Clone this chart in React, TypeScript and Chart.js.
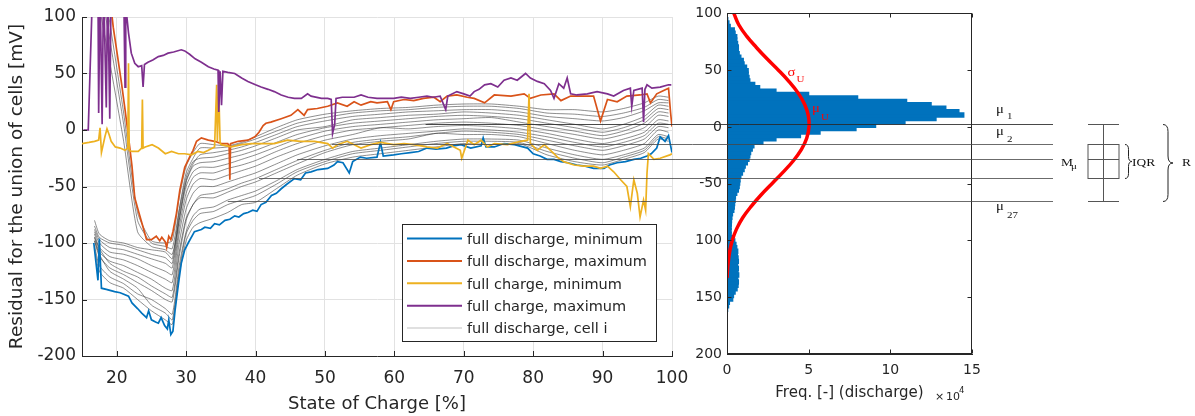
import React, { useEffect, useRef } from 'react';
import { Chart, registerables } from 'chart.js';

Chart.register(...registerables);

// ---------------- data ----------------
const socTicks = [20, 30, 40, 50, 60, 70, 80, 90, 100];
const residualTicks = [-200, -150, -100, -50, 0, 50, 100];
const residualTickLabels = ['-200', '-150', '-100', '-50', '0', '50', '100'];
const histYTickLabels = ['200', '150', '100', '-50', '0', '50', '100'];
const freqTicks = [0, 5, 10, 15];

const legendLabels = [
  'full discharge, minimum',
  'full discharge, maximum',
  'full charge, minimum',
  'full charge, maximum',
  'full discharge, cell i',
];

// full discharge, minimum  [SOC %, mV]
const dischargeMin: [number, number][] = [
  [16.7, -100], [17.3, -133], [17.5, -96], [17.8, -140], [18.5, -141], [19.7, -143], [20.5, -144],
  [21.7, -147], [22.2, -153], [23.0, -158], [23.6, -162], [24.3, -166], [24.6, -160], [25.0, -168],
  [25.6, -170], [26.0, -171], [26.4, -166], [26.9, -173], [27.3, -176], [27.5, -168], [27.8, -181],
  [28.1, -178], [28.4, -160], [28.9, -136], [29.3, -118], [29.8, -106], [30.3, -100], [31.2, -90],
  [32.2, -88], [32.7, -86], [33.5, -87], [34.1, -83], [34.8, -84], [35.6, -80], [36.3, -79],
  [37.0, -76], [37.6, -77], [38.3, -74], [38.9, -73], [39.6, -71], [40.2, -72], [40.8, -66],
  [41.5, -64], [42.3, -58], [43.0, -56], [43.7, -52], [44.5, -48], [45.6, -43], [46.5, -44],
  [47.2, -38], [48.0, -37], [49.0, -35], [50.4, -34], [51.3, -31], [51.8, -28], [52.6, -29],
  [53.5, -38], [54.0, -28], [55.1, -24], [56.0, -25], [57.5, -24], [58.0, -11], [58.4, -23],
  [59.9, -22], [61.0, -21], [62.3, -20], [63.5, -19], [64.7, -16], [66.0, -17], [67.5, -16],
  [68.5, -14], [69.6, -13], [71.0, -16], [72.5, -14], [72.8, -7], [73.2, -15], [74.4, -15],
  [75.8, -12], [77.3, -13], [79.2, -16], [80.0, -21], [81.0, -23], [82.0, -26], [83.0, -26],
  [84.0, -28], [85.0, -29], [86.3, -31], [87.5, -32], [88.7, -34], [90.2, -34], [91.0, -31],
  [92.1, -29], [93.3, -28], [94.5, -26], [95.5, -25], [96.4, -23], [97.0, -21], [97.8, -16],
  [98.3, -6], [99.0, -10], [99.5, -5], [100, -20],
];

// full discharge, maximum
const dischargeMax: [number, number][] = [
  [17.0, 180], [18.5, 140], [19.3, 102], [19.5, 91], [20.2, 62], [20.7, 41], [21.2, 18],
  [21.7, -6], [22.2, -32], [22.6, -60], [23.1, -71], [23.8, -86], [24.3, -97], [25.0, -97],
  [25.7, -94], [26.2, -98], [26.5, -95], [27.0, -99], [27.2, -104], [27.5, -94], [27.8, -97],
  [28.1, -90], [28.6, -74], [29.1, -53], [29.8, -33], [30.5, -24], [31.0, -18], [31.5, -10],
  [32.2, -7], [33.2, -9], [34.1, -10], [35.1, -12], [36.0, -12], [36.2, -14], [36.3, -44],
  [36.4, -12], [37.5, -10], [38.9, -9], [39.9, -6], [40.5, -2], [41.1, 4], [41.5, 6], [42.2, 7],
  [43.7, 10], [45.1, 13], [46.1, 18], [47.0, 13], [47.5, 18], [48.9, 19], [50.4, 21], [51.8, 24],
  [53.2, 21], [54.2, 25], [55.2, 22], [56.6, 25], [57.5, 24], [59.0, 25], [59.5, 18], [59.9, 25],
  [61.4, 27], [62.8, 26], [64.2, 28], [65.7, 29], [66.6, 25], [67.6, 30], [69.0, 31], [70.5, 29],
  [71.5, 28], [73.0, 24], [74.4, 31], [76.8, 30], [78.7, 32], [79.6, 28], [81.1, 31], [83.0, 32],
  [84.0, 26], [85.4, 30], [87.3, 30], [88.7, 30], [89.7, 8], [90.7, 27], [92.1, 25], [93.5, 30],
  [95.4, 31], [96.4, 32], [96.9, 24], [97.8, 32], [98.8, 35], [99.5, 37], [99.8, 15], [100, 3],
];

// full charge, minimum
const chargeMin: [number, number][] = [
  [15.0, -12], [16.0, -11], [16.8, -10], [17.4, -9], [17.6, 2], [17.8, -20], [18.3, -6],
  [18.6, 1], [18.9, -4], [19.2, -10], [19.8, -15], [20.5, -16], [21.2, -18], [21.6, -16],
  [21.7, 59], [21.8, -18], [22.2, -19], [23.1, -19], [23.6, -16], [23.7, 27], [23.8, -16],
  [24.1, -15], [25.1, -13], [26.0, -16], [27.0, -21], [27.9, -19], [28.9, -21], [29.8, -21],
  [30.8, -22], [31.7, -19], [32.5, -20], [33.2, -18], [34.1, -15], [34.4, 40], [34.5, -10],
  [34.7, 36], [34.9, -12], [35.1, -13], [36.5, -15], [38.0, -13], [39.4, -12], [40.8, -12],
  [42.7, -12], [44.6, -9], [46.5, -10], [48.5, -10], [50.4, -12], [51.1, -16], [51.8, -13],
  [53.2, -10], [55.2, -16], [56.6, -13], [58.0, -11], [59.9, -13], [61.4, -12], [62.8, -13],
  [64.7, -15], [66.2, -16], [67.6, -12], [69.5, -18], [69.7, -25], [70.6, -9], [71.5, -13],
  [72.5, -9], [73.4, -15], [74.4, -12], [76.3, -13], [78.2, -10], [79.2, -9], [79.4, 32],
  [79.6, -12], [80.6, -18], [81.6, -13], [82.5, -18], [83.5, -24], [84.4, -28], [85.9, -31],
  [87.3, -32], [88.7, -32], [89.7, -34], [90.7, -32], [91.6, -37], [92.6, -44], [93.5, -50],
  [94.0, -68], [94.5, -44], [95.0, -56], [95.4, -77], [95.9, -62], [96.2, -71], [96.4, -38],
  [96.6, -21], [97.4, -26], [98.3, -25], [99.7, -22], [100, -21],
];

// full charge, maximum
const chargeMax: [number, number][] = [
  [15.2, 0], [15.9, 0], [16.4, 100], [16.7, 130], [17.3, 130], [17.4, 15], [17.6, 130],
  [17.9, 5], [18.1, 130], [18.5, 20], [18.7, 130], [19.0, 10], [19.2, 130], [21.0, 130],
  [21.2, 38], [21.3, 110], [21.7, 86], [22.1, 68], [22.6, 59], [23.1, 56], [23.6, 57],
  [23.8, 38], [24.0, 58], [24.5, 60], [25.2, 62], [26.0, 65], [26.7, 66], [27.4, 68],
  [28.2, 69], [29.3, 71], [29.8, 70], [30.5, 67], [31.3, 63], [32.2, 60], [33.2, 56],
  [34.0, 54], [34.6, 53], [34.7, 16], [34.9, 52], [35.1, 22], [35.3, 52], [36.0, 51],
  [37.0, 50], [38.0, 46], [38.9, 43], [40.0, 40], [40.8, 38], [41.8, 36], [42.7, 34],
  [43.7, 31], [44.7, 29], [45.6, 28], [46.6, 28], [47.5, 32], [48.0, 30], [49.5, 28],
  [50.4, 28], [50.9, 27], [51.1, -3], [51.4, 5], [51.6, 28], [52.5, 29], [53.8, 29],
  [54.2, 29], [55.2, 31], [56.2, 29], [57.5, 28], [58.5, 28], [59.9, 28], [61.0, 29],
  [62.3, 28], [63.5, 29], [64.7, 30], [65.6, 29], [66.6, 30], [67.4, 18], [67.7, 30],
  [69.0, 34], [70.0, 32], [70.9, 30], [71.5, 34], [72.2, 36], [73.0, 40], [73.9, 41],
  [74.9, 38], [75.8, 44], [76.8, 46], [77.7, 44], [78.9, 50], [79.6, 46], [80.6, 43],
  [81.6, 41], [82.5, 35], [83.0, 28], [83.7, 41], [84.4, 37], [84.9, 46], [85.4, 32],
  [86.3, 31], [87.8, 32], [89.2, 34], [90.7, 32], [91.6, 30], [93.0, 35], [94.0, 37],
  [94.2, 21], [94.5, 35], [95.7, 37], [95.9, 7], [96.1, 36], [96.4, 40], [97.1, 37],
  [98.3, 38], [99.5, 40], [99.9, 40],
];

// full discharge, individual cells
const cellSoc = [16.8, 17.5, 19, 21, 23, 25, 27, 28, 29, 30, 31, 32, 34, 36, 38, 40, 43, 46, 50, 54, 58, 62, 66, 70, 74, 78, 82, 86, 90, 93, 96, 98, 99.5];
const cellResiduals: number[][] = [
  [-105, -125, -135, -140, -150, -160, -168, -172, -128, -98, -86, -82, -78, -73, -66, -64, -52, -40, -30, -24, -21, -18, -15, -12, -13, -12, -22, -28, -31, -26, -20, -8, -10],
  [-102, -120, -130, -136, -145, -150, -158, -163, -120, -90, -76, -70, -68, -62, -58, -54, -45, -35, -26, -19, -16, -13, -10, -8, -8, -9, -16, -22, -26, -22, -16, -4, -6],
  [-98, -110, -125, -132, -140, -155, -162, -168, -125, -92, -80, -74, -72, -66, -62, -58, -48, -37, -28, -21, -18, -15, -12, -10, -10, -11, -19, -25, -29, -24, -18, -6, -8],
  [-98, -112, -122, -128, -135, -142, -150, -152, -112, -80, -66, -60, -60, -55, -50, -46, -38, -30, -20, -13, -10, -8, -3, -4, -4, -6, -12, -18, -22, -18, -12, 0, -2],
  [-95, -105, -118, -125, -130, -138, -145, -148, -108, -78, -66, -58, -56, -52, -47, -43, -35, -27, -18, -11, -8, -6, -3, -1, -2, -4, -9, -14, -18, -14, -8, 3, 2],
  [-95, -108, -116, -120, -126, -132, -140, -142, -100, -70, -56, -50, -50, -46, -42, -38, -30, -22, -14, -8, -5, -3, -1, 1, 0, -2, -6, -11, -15, -11, -5, 6, 5],
  [-92, -104, -112, -115, -120, -126, -132, -135, -92, -62, -48, -43, -44, -40, -36, -32, -24, -17, -9, -4, 2, 1, 3, 4, 3, 1, -3, -8, -12, -8, -2, 9, 8],
  [-90, -100, -108, -110, -114, -120, -125, -128, -86, -56, -42, -38, -38, -34, -31, -27, -19, -12, -5, 0, 2, 4, 6, 7, 6, 4, 0, -4, -8, -4, 2, 13, 12],
  [-88, -97, -104, -106, -110, -114, -118, -122, -80, -50, -37, -33, -33, -30, -26, -22, -15, -8, -1, 3, 5, 7, 9, 10, 11, 7, 3, -1, -5, -1, 6, 16, 15],
  [-85, -95, -100, -102, -106, -110, -113, -118, -76, -46, -32, -29, -28, -25, -22, -18, -11, -4, 2, 6, 8, 10, 12, 13, 12, 10, 6, 2, -2, 2, 9, 19, 18],
  [-80, -92, -98, -100, -104, -106, -108, -114, -72, -42, -28, -25, -24, -21, -18, -14, -7, 0, 3, 9, 11, 13, 14, 16, 15, 13, 9, 5, 1, 5, 12, 22, 21],
  [150, 110, 60, -10, -90, -103, -106, -110, -80, -45, -30, -22, -20, -18, -15, -11, -4, 3, 8, 12, 14, 16, 17, 18, 18, 16, 12, 10, 8, 11, 17, 24, 24],
  [150, 130, 80, 5, -80, -100, -103, -105, -70, -38, -25, -16, -16, -15, -12, -8, -1, 6, 11, 15, 17, 18, 20, 21, 21, 19, 15, 14, 12, 15, 20, 27, 26],
  [150, 150, 95, 15, -73, -98, -100, -98, -60, -32, -20, -12, -13, -14, -11, -6, 2, 9, 14, 17, 19, 20, 22, 23, 23, 21, 18, 18, 16, 19, 24, 30, 29],
];

// histogram of residuals (discharge), 3 mV bins from -162 mV upward, freq in 1e4
const histStart = -162;
const histStep = 3;
const histFreq = [
  0.04, 0.1, 0.15, 0.35, 0.4, 0.5, 0.62, 0.68, 0.7, 0.66, 0.72, 0.68, 0.7, 0.64, 0.7, 0.68, 0.64,
  0.66, 0.6, 0.55, 0.48, 0.35, 0.26, 0.25, 0.26, 0.27, 0.28, 0.3, 0.34, 0.42, 0.45, 0.47, 0.5,
  0.52, 0.6, 0.7, 0.75, 0.78, 0.8, 0.85, 0.95, 1.05, 1.12, 1.25, 1.35, 1.4, 1.45, 1.55, 1.65,
  2.2, 3.0, 4.5, 5.7, 7.9, 9.1, 10.9, 12.8, 14.5, 14.2, 13.4, 12.5, 11.0, 8.0, 5.0, 3.0, 2.0,
  1.7, 1.4, 1.35, 1.3, 1.3, 1.2, 1.05, 1.0, 0.85, 0.75, 0.7, 0.7, 0.65, 0.6, 0.6, 0.5, 0.45,
  0.2, 0.12, 0.05,
];

// fitted normal curve
const fitMv = [100, 90, 80, 70, 60, 50, 40, 30, 20, 10, 0, -10, -20, -30, -40, -50, -60, -70, -80, -90, -100, -110, -120, -133];
const fitFreq = [0.42, 0.72, 1.2, 1.8, 2.45, 3.15, 3.8, 4.35, 4.75, 4.98, 5.02, 4.88, 4.55, 4.05, 3.42, 2.75, 2.08, 1.48, 0.96, 0.58, 0.32, 0.16, 0.07, 0.0];

// cell means μ1, μ2(Q3), Mμ, Q1, μ27 (mV) and where their guide lines start (SOC %)
const muValues = [3, -15, -28, -45, -65];
const muLineStartSoc = [64.5, 51, 46, 40.5, 36];

// ---------------- styles ----------------
const W = 1195;
const H = 416;
const FONT = "'DejaVu Sans', sans-serif";
const SERIF = "'Liberation Serif', serif";
const AXIS = '#262626';
const GRID = '#e2e2e2';
const seriesColors = ['#0072BD', '#D95319', '#EDB120', '#7E2F8E'];
const cellColor = 'rgba(50,50,50,0.55)';
const cellLegendColor = 'rgba(0,0,0,0.12)';
const histColor = '#0072BD';

function stretchedText(ctx: any, text: string, x: number, y: number, size: number, color: string) {
  ctx.save();
  ctx.translate(x, y);
  ctx.scale(1.22, 1);
  ctx.font = `${size}px ${SERIF}`;
  ctx.fillStyle = color;
  ctx.textAlign = 'left';
  ctx.textBaseline = 'alphabetic';
  ctx.fillText(text, 0, 0);
  ctx.restore();
}

function brace(ctx: any, x: number, top: number, bot: number, w: number, r: number) {
  const mid = (top + bot) / 2;
  const xm = x + w / 2;
  ctx.beginPath();
  ctx.moveTo(x, top);
  ctx.quadraticCurveTo(xm, top, xm, top + r);
  ctx.lineTo(xm, mid - r);
  ctx.quadraticCurveTo(xm, mid, x + w, mid);
  ctx.quadraticCurveTo(xm, mid, xm, mid + r);
  ctx.lineTo(xm, bot - r);
  ctx.quadraticCurveTo(xm, bot, x, bot);
  ctx.stroke();
}

export default function App() {
  const leftRef = useRef<HTMLCanvasElement>(null);
  const rightRef = useRef<HTMLCanvasElement>(null);

  useEffect(() => {
    const leftLegendColors = [...seriesColors, cellLegendColor];

    const leftDecor = {
      id: 'leftDecor',
      afterDraw(chart: any) {
        const { ctx, chartArea: a, scales } = chart;
        ctx.save();
        ctx.strokeStyle = AXIS;
        ctx.lineWidth = 1;
        ctx.beginPath();
        socTicks.forEach((v) => {
          const x = Math.round(scales.x.getPixelForValue(v)) + 0.5;
          ctx.moveTo(x, a.bottom);
          ctx.lineTo(x, a.bottom - 5);
        });
        residualTicks.forEach((v) => {
          const y = Math.round(scales.y.getPixelForValue(v)) + 0.5;
          ctx.moveTo(a.left, y);
          ctx.lineTo(a.left + 5, y);
        });
        ctx.stroke();

        // legend
        const bw = 254;
        const bh = 117;
        const bx = Math.round(a.right - 16 - bw);
        const by = Math.round(a.bottom - 15 - bh);
        ctx.fillStyle = '#ffffff';
        ctx.fillRect(bx, by, bw, bh);
        ctx.strokeStyle = AXIS;
        ctx.lineWidth = 1;
        ctx.strokeRect(bx + 0.5, by + 0.5, bw, bh);
        ctx.font = `14.5px ${FONT}`;
        ctx.textBaseline = 'middle';
        ctx.textAlign = 'left';
        legendLabels.forEach((lab, i) => {
          const y = by + 14.5 + i * 22.4;
          ctx.strokeStyle = leftLegendColors[i];
          ctx.lineWidth = 2;
          ctx.beginPath();
          ctx.moveTo(bx + 5, y);
          ctx.lineTo(bx + 60, y);
          ctx.stroke();
          ctx.fillStyle = AXIS;
          ctx.fillText(lab, bx + 65, y + 1.5);
        });
        ctx.restore();
      },
    };

    const seriesList = [dischargeMin, dischargeMax, chargeMin, chargeMax];
    const drawOrder = [3, 2, 1, 0];
    const coloredSets = seriesList.map((s, i) => ({
      type: 'line',
      data: s.map(([x, y]) => ({ x, y })),
      borderColor: seriesColors[i],
      borderWidth: 1.7,
      pointRadius: 0,
      pointHitRadius: 0,
      tension: 0,
      order: drawOrder[i],
    }));
    const cellSets = cellResiduals.map((vals) => ({
      type: 'line',
      data: vals.map((y, j) => ({ x: cellSoc[j], y })),
      borderColor: cellColor,
      borderWidth: 1,
      pointRadius: 0,
      pointHitRadius: 0,
      tension: 0.2,
      order: 10,
    }));

    const left = new Chart(leftRef.current as HTMLCanvasElement, {
      type: 'line',
      data: { datasets: [...coloredSets, ...cellSets] as any },
      options: {
        animation: false,
        responsive: false,
        events: [],
        layout: { padding: { left: 0, right: 523, top: 17, bottom: 0 } },
        plugins: { legend: { display: false }, tooltip: { enabled: false } },
        scales: {
          x: {
            type: 'linear',
            min: 15,
            max: 100,
            afterBuildTicks: (s: any) => { s.ticks = socTicks.map((v) => ({ value: v })); },
            afterFit: (s: any) => { s.height = 60; },
            grid: { color: GRID, drawTicks: false },
            border: { color: AXIS, width: 1 },
            ticks: { padding: 12, autoSkip: false, maxRotation: 0, color: AXIS, font: { family: FONT, size: 17 } },
            title: { display: true, text: 'State of Charge [%]', color: AXIS, font: { family: FONT, size: 18 }, padding: { top: 0, bottom: 1 } },
          },
          y: {
            type: 'linear',
            min: -200,
            max: 100,
            afterBuildTicks: (s: any) => { s.ticks = residualTicks.map((v) => ({ value: v })); },
            afterFit: (s: any) => { s.width = 82; },
            grid: { color: GRID, drawTicks: false },
            border: { color: AXIS, width: 1 },
            ticks: { padding: 6, color: AXIS, font: { family: FONT, size: 17 }, callback: (_v: any, i: number) => residualTickLabels[i] },
            title: { display: true, text: 'Residual for the union of cells [mV]', color: AXIS, font: { family: FONT, size: 18.5 }, padding: { top: 6, bottom: 0 } },
          },
        },
      } as any,
      plugins: [leftDecor],
    });

    const rightDecor = {
      id: 'rightDecor',
      afterDraw(chart: any) {
        const { ctx, chartArea: a, scales } = chart;
        const xs = scales.x;
        const ys = scales.y;
        ctx.save();
        // frame
        ctx.strokeStyle = AXIS;
        ctx.lineWidth = 1;
        const L = Math.round(a.left) + 0.5;
        const R = Math.round(a.right) - 0.5;
        const T = Math.round(a.top) + 0.5;
        const B = Math.round(a.bottom) - 0.5;
        ctx.strokeRect(L, T, R - L, B - T);
        // inward ticks
        ctx.beginPath();
        freqTicks.forEach((v) => {
          const x = Math.round(xs.getPixelForValue(v)) + 0.5;
          ctx.moveTo(x, B); ctx.lineTo(x, B - 4);
          ctx.moveTo(x, T); ctx.lineTo(x, T + 4);
        });
        residualTicks.forEach((v) => {
          const y = Math.round(ys.getPixelForValue(v)) + 0.5;
          ctx.moveTo(L, y); ctx.lineTo(L + 4, y);
          ctx.moveTo(R, y); ctx.lineTo(R - 4, y);
        });
        ctx.stroke();

        // x10^4 exponent label
        ctx.fillStyle = AXIS;
        ctx.textAlign = 'left';
        ctx.textBaseline = 'alphabetic';
        ctx.font = `11px ${FONT}`;
        ctx.fillText('×', a.right - 37, a.bottom + 46);
        ctx.fillText('10', a.right - 26, a.bottom + 46);
        ctx.font = `8.5px ${FONT}`;
        ctx.fillText('4', a.right - 13, a.bottom + 39);

        // σU and μU labels
        const sx = xs.getPixelForValue(3.7);
        const sy = ys.getPixelForValue(45);
        stretchedText(ctx, 'σ', sx, sy, 12, '#ff0000');
        stretchedText(ctx, 'U', sx + 9, sy + 6, 9, '#ff0000');
        const mx = xs.getPixelForValue(5.2);
        const my = ys.getPixelForValue(13);
        stretchedText(ctx, 'μ', mx, my, 12, '#ff0000');
        stretchedText(ctx, 'U', mx + 9, my + 8, 9, '#ff0000');

        // guide lines for μ values
        const endX = a.right + 81;
        const muY = muValues.map((v) => Math.round(ys.getPixelForValue(v)) + 0.5);
        muY.forEach((y, i) => {
          const x0 = left.scales.x.getPixelForValue(muLineStartSoc[i]);
          ctx.strokeStyle = i === 0 ? 'rgba(40,40,40,0.85)' : 'rgba(70,70,70,0.8)';
          ctx.lineWidth = 1;
          ctx.beginPath();
          ctx.moveTo(x0, y);
          ctx.lineTo(endX, y);
          ctx.stroke();
        });

        // box plot
        const cx = Math.round(a.right + 131) + 0.5;
        const bl = cx - 15.5;
        const br = cx + 15.5;
        ctx.strokeStyle = '#555555';
        ctx.lineWidth = 1;
        ctx.beginPath();
        ctx.moveTo(cx, muY[0]); ctx.lineTo(cx, muY[4]);
        ctx.moveTo(bl, muY[0]); ctx.lineTo(br, muY[0]);
        ctx.moveTo(bl, muY[4]); ctx.lineTo(br, muY[4]);
        ctx.moveTo(bl, muY[2]); ctx.lineTo(br, muY[2]);
        ctx.stroke();
        ctx.strokeRect(bl, muY[1], br - bl, muY[3] - muY[1]);

        // braces
        ctx.strokeStyle = '#222222';
        brace(ctx, a.right + 153, muY[1], muY[3], 7, 5);
        brace(ctx, a.right + 191, muY[0], muY[4], 10, 7);

        // labels
        const txt = '#111111';
        stretchedText(ctx, 'μ', a.right + 24, muY[0] - 12, 12, txt);
        stretchedText(ctx, '1', a.right + 35, muY[0] - 6, 9, txt);
        stretchedText(ctx, 'μ', a.right + 24, muY[1] - 10, 12, txt);
        stretchedText(ctx, '2', a.right + 35, muY[1] - 3, 9, txt);
        stretchedText(ctx, 'μ', a.right + 24, muY[4] + 8, 12, txt);
        stretchedText(ctx, '27', a.right + 35, muY[4] + 16, 9, txt);
        stretchedText(ctx, 'M', a.right + 89, muY[2] + 6, 11, txt);
        stretchedText(ctx, 'μ', a.right + 99, muY[2] + 9, 9, txt);
        stretchedText(ctx, 'IQR', a.right + 160, muY[2] + 6, 11, txt);
        stretchedText(ctx, 'R', a.right + 210, muY[2] + 6, 11, txt);
        ctx.restore();
      },
    };

    const histData = histFreq.map((f, i) => ({ x: f, y: histStart + histStep * (i + 0.5) }));
    const fitData = fitMv.map((v, i) => ({ x: fitFreq[i], y: v }));

    const right = new Chart(rightRef.current as HTMLCanvasElement, {
      type: 'bar',
      data: {
        datasets: [
          {
            type: 'line',
            data: fitData,
            borderColor: '#ff0000',
            borderWidth: 3.5,
            pointRadius: 0,
            pointHitRadius: 0,
            tension: 0.4,
            order: 0,
          },
          {
            type: 'bar',
            data: histData,
            backgroundColor: histColor,
            borderColor: histColor,
            borderWidth: 0,
            inflateAmount: 0.6,
            barPercentage: 1.25,
            categoryPercentage: 1,
            order: 1,
          },
        ] as any,
      },
      options: {
        animation: false,
        responsive: false,
        events: [],
        indexAxis: 'y',
        layout: { padding: { left: 680, right: 223, top: 10, bottom: 0 } },
        plugins: { legend: { display: false }, tooltip: { enabled: false } },
        scales: {
          x: {
            type: 'linear',
            min: 0,
            max: 15,
            afterBuildTicks: (s: any) => { s.ticks = freqTicks.map((v) => ({ value: v })); },
            afterFit: (s: any) => { s.height = 62; },
            grid: { display: false, drawTicks: false },
            border: { display: true, color: AXIS },
            ticks: { padding: 8, autoSkip: false, maxRotation: 0, color: AXIS, font: { family: FONT, size: 14 } },
            title: { display: true, text: 'Freq. [-] (discharge)', color: AXIS, font: { family: FONT, size: 15 }, padding: { top: 0, bottom: 14 } },
          },
          y: {
            type: 'linear',
            min: -200,
            max: 100,
            offset: false,
            afterBuildTicks: (s: any) => { s.ticks = residualTicks.map((v) => ({ value: v })); },
            afterFit: (s: any) => { s.width = 47; },
            grid: { display: false, drawTicks: false, offset: false },
            border: { display: true, color: AXIS },
            ticks: { padding: 5, color: AXIS, font: { family: FONT, size: 14 }, callback: (_v: any, i: number) => histYTickLabels[i] },
          },
        },
      } as any,
      plugins: [rightDecor],
    });

    return () => {
      right.destroy();
      left.destroy();
    };
  }, []);

  const canvasStyle: React.CSSProperties = { position: 'absolute', left: 0, top: 0, display: 'block' };
  return (
    <div style={{ position: 'fixed', left: 0, top: 0, width: W, height: H, background: '#ffffff' }}>
      <canvas ref={leftRef} width={W} height={H} style={canvasStyle} />
      <canvas ref={rightRef} width={W} height={H} style={canvasStyle} />
    </div>
  );
}
